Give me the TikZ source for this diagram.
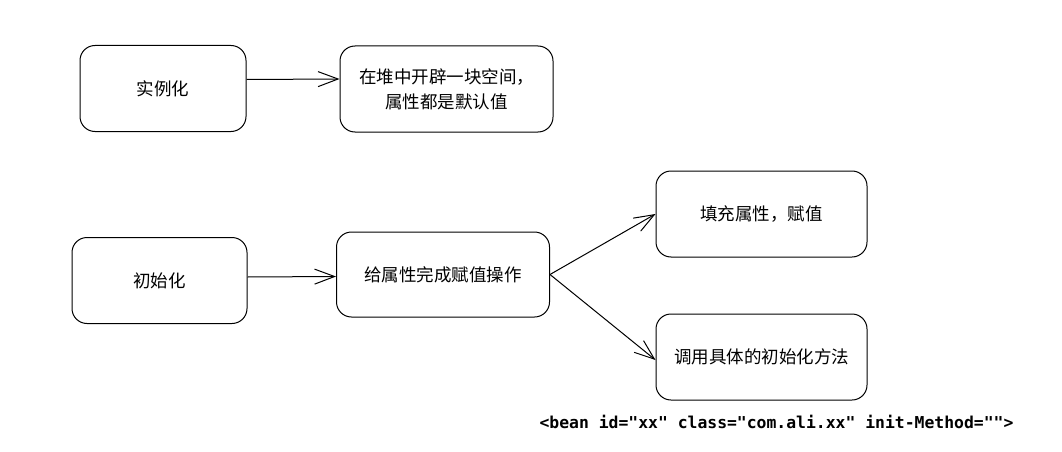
\documentclass[tikz,border=0pt]{standalone}
\usepackage{fontspec}
\newfontfamily\cjk{Noto Sans CJK SC}
\newfontfamily\code{DejaVu Sans Mono}
\usetikzlibrary{arrows.meta}

\begin{document}
\begin{tikzpicture}[x=1pt, y=-1pt, line width=1pt,
  box/.style={draw, rounded corners=15pt, align=center, inner sep=0pt,
    font=\cjk\fontsize{17.5}{25}\selectfont},
  open/.style={-{Straight Barb[length=20pt,width=15pt]}}]
\useasboundingbox (0,0) rectangle (1062,452);
\node [box, minimum width=166pt, minimum height=86pt] (A) at (163, 88.5) {实例化};
\node [box, minimum width=213pt, minimum height=86pt] (B) at (446.5, 89) {在堆中开辟一块空间，\\属性都是默认值};
\node [box, minimum width=175pt, minimum height=86pt] (C) at (159.5, 280.5) {初始化};
\node [box, minimum width=213pt, minimum height=85pt] (D) at (443, 274.5) {给属性完成赋值操作};
\node [box, minimum width=211pt, minimum height=86pt] (E) at (761.5, 214) {填充属性，赋值};
\node [box, minimum width=211pt, minimum height=86pt] (F) at (761.5, 357) {调用具体的初始化方法};
\node [font=\code\bfseries\fontsize{16.4}{16}\selectfont] (G) at (776.5, 422) {<bean id="xx" class="com.ali.xx" init-Method="">};

\draw [open] ([yshift=9pt]A.east) to ([yshift=10pt]B.west);
\draw [open] ([yshift=3.5pt]C.east) to ([yshift=-2pt]D.west);
\draw [open] (D.east) to (E.west);
\draw [open] (D.east) to ([yshift=-3pt]F.west);
\end{tikzpicture}
\end{document}
